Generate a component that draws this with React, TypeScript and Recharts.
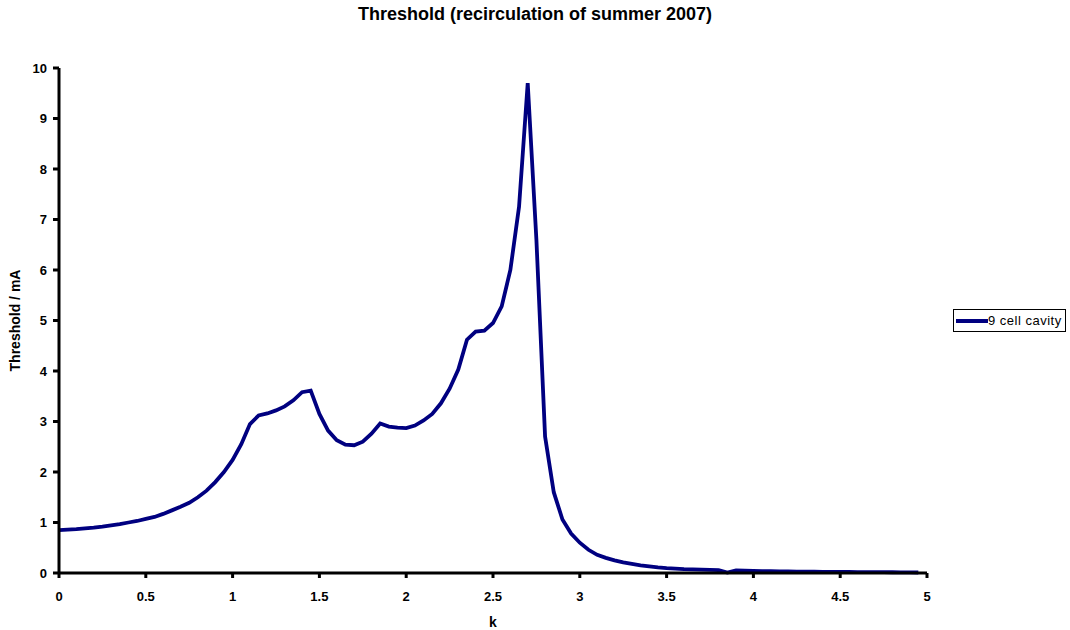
import React from 'react';
import { LineChart, Line, XAxis, YAxis, Legend } from 'recharts';

const kValues = [
  0, 0.05, 0.1, 0.15, 0.2, 0.25, 0.3, 0.35, 0.4, 0.45,
  0.5, 0.55, 0.6, 0.65, 0.7, 0.75, 0.8, 0.85, 0.9, 0.95,
  1, 1.05, 1.1, 1.15, 1.2, 1.25, 1.3, 1.35, 1.4, 1.45,
  1.5, 1.55, 1.6, 1.65, 1.7, 1.75, 1.8, 1.85, 1.9, 1.95,
  2, 2.05, 2.1, 2.15, 2.2, 2.25, 2.3, 2.35, 2.4, 2.45,
  2.5, 2.55, 2.6, 2.65, 2.7, 2.75, 2.8, 2.85, 2.9, 2.95,
  3, 3.05, 3.1, 3.15, 3.2, 3.25, 3.3, 3.35, 3.4, 3.45,
  3.5, 3.55, 3.6, 3.65, 3.7, 3.75, 3.8, 3.85, 3.9, 3.95,
  4, 4.05, 4.1, 4.15, 4.2, 4.25, 4.3, 4.35, 4.4, 4.45,
  4.5, 4.55, 4.6, 4.65, 4.7, 4.75, 4.8, 4.85, 4.9, 4.95,
];

const thresholdMA = [
  0.85, 0.86, 0.87, 0.885, 0.9, 0.92, 0.945, 0.97, 1.0, 1.03,
  1.07, 1.11, 1.17, 1.24, 1.31, 1.39, 1.5, 1.63, 1.8, 2.0,
  2.24, 2.55, 2.95, 3.12, 3.16, 3.22, 3.3, 3.42, 3.58, 3.61,
  3.15, 2.82, 2.63, 2.54, 2.53, 2.6, 2.76, 2.96, 2.9, 2.88,
  2.87, 2.92, 3.02, 3.15, 3.36, 3.65, 4.03, 4.62, 4.78, 4.8,
  4.95, 5.28, 6.0, 7.25, 9.7, 6.6, 2.7, 1.6, 1.06, 0.78,
  0.6, 0.46, 0.36, 0.3, 0.25, 0.21, 0.18, 0.15, 0.13, 0.11,
  0.095, 0.085, 0.075, 0.07, 0.065, 0.06, 0.055, 0.01, 0.05, 0.045,
  0.04, 0.038, 0.035, 0.033, 0.031, 0.029, 0.027, 0.025, 0.024, 0.022,
  0.021, 0.02, 0.019, 0.018, 0.017, 0.016, 0.015, 0.013, 0.012, 0.01,
];

const xTicks = [0, 0.5, 1, 1.5, 2, 2.5, 3, 3.5, 4, 4.5, 5];
const yTicks = [0, 1, 2, 3, 4, 5, 6, 7, 8, 9, 10];

const data = kValues.map((k, i) => ({ k, threshold: thresholdMA[i] }));

const font = '"Liberation Sans", Arial, sans-serif';
const navy = '#000080';
const tickStyle = { fill: '#000', fontFamily: font, fontSize: 13, fontWeight: 'bold' };

function LegendBox() {
  return (
    <div
      style={{
        boxSizing: 'border-box',
        width: 113,
        height: 23,
        border: '1px solid #000',
        display: 'flex',
        alignItems: 'center',
        fontFamily: font,
        fontSize: 13,
        letterSpacing: 0.5,
        color: '#000',
        background: '#fff',
      }}
    >
      <svg width={34} height={8} style={{ display: 'block', flex: 'none' }}>
        <line x1={2} x2={34} y1={4} y2={4} stroke={navy} strokeWidth={4} />
      </svg>
      <span style={{ whiteSpace: 'nowrap' }}>9 cell cavity</span>
    </div>
  );
}

export default function App() {
  return (
    <div style={{ position: 'absolute', left: 0, top: 0, width: 1070, height: 630, background: '#fff' }}>
      <div
        style={{
          position: 'absolute',
          left: 0,
          width: 1070,
          top: 4,
          textAlign: 'center',
          fontFamily: font,
          fontWeight: 'bold',
          fontSize: 18,
        }}
      >
        Threshold (recirculation of summer 2007)
      </div>
      <LineChart
        width={1070}
        height={630}
        data={data}
        margin={{ top: 68, right: 30, bottom: 0, left: 9 }}
      >
        <XAxis
          dataKey='k'
          type='number'
          domain={[0, 5]}
          ticks={xTicks}
          interval={0}
          height={57}
          axisLine={{ stroke: '#000', strokeWidth: 3 }}
          tickLine={{ stroke: '#000', strokeWidth: 3 }}
          tickSize={5}
          tickMargin={14}
          tick={tickStyle}
          label={{
            value: 'k',
            position: 'insideBottom',
            offset: 3,
            fill: '#000',
            fontFamily: font,
            fontSize: 14,
            fontWeight: 'bold',
          }}
        />
        <YAxis
          type='number'
          domain={[0, 10]}
          ticks={yTicks}
          interval={0}
          width={50}
          axisLine={{ stroke: '#000', strokeWidth: 3 }}
          tickLine={{ stroke: '#000', strokeWidth: 3 }}
          tickSize={6}
          tickMargin={6}
          tick={tickStyle}
          label={{
            value: 'Threshold / mA',
            angle: -90,
            position: 'insideLeft',
            offset: 6,
            style: { textAnchor: 'middle' },
            fill: '#000',
            fontFamily: font,
            fontSize: 14,
            fontWeight: 'bold',
          }}
        />
        <Legend
          layout='vertical'
          align='right'
          verticalAlign='middle'
          content={() => <LegendBox />}
          wrapperStyle={{ left: 953, top: 309, right: 'auto', bottom: 'auto', width: 113 }}
        />
        <Line
          type='linear'
          dataKey='threshold'
          name='9 cell cavity'
          stroke={navy}
          strokeWidth={3.8}
          dot={false}
          isAnimationActive={false}
        />
      </LineChart>
    </div>
  );
}
